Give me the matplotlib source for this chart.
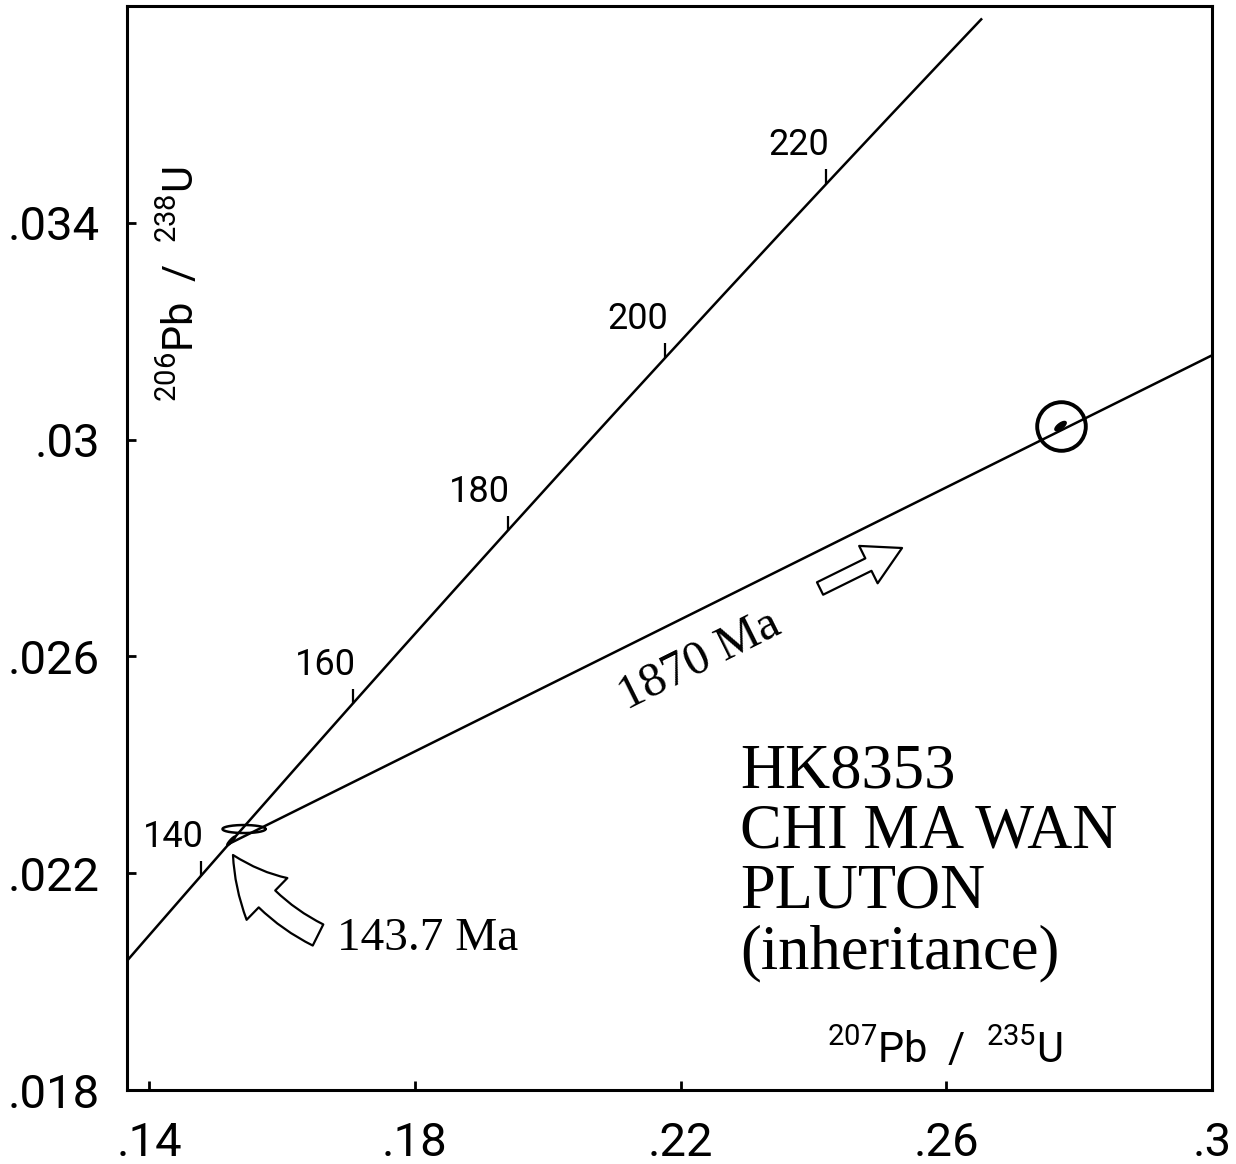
import numpy as np
import matplotlib
matplotlib.use("Agg")
import matplotlib.pyplot as plt
from matplotlib.patches import FancyArrowPatch
from matplotlib.path import Path

# Uranium decay constants (per Ma)
LAMBDA_238 = 1.55125e-4
LAMBDA_235 = 9.8485e-4

# Concordia span (Ma) and labelled age marks
concordia_span = [125.0, 239.0]
age_marks = [140, 160, 180, 200, 220]

# Discordia intercept ages (Ma)
lower_intercept = 143.7
upper_intercept = 1870.0

# Zircon analyses: 207Pb/235U, 206Pb/238U, error half-widths, correlation
grain_x = [0.15429, 0.15233, 0.2772]
grain_y = [0.022815, 0.022594, 0.03025]
grain_sx = [0.00324, 0.00056, 0.00085]
grain_sy = [0.000074, 0.000076, 0.000085]
grain_rho = [0.0, 0.93, 0.70]
grain_filled = [False, False, True]
circled_grain = 2

x_ticks = [0.14, 0.18, 0.22, 0.26, 0.30]
x_tick_labels = [".14", ".18", ".22", ".26", ".3"]
y_ticks = [0.018, 0.022, 0.026, 0.030, 0.034]
y_tick_labels = [".018", ".022", ".026", ".03", ".034"]

title_lines = ["HK8353", "CHI MA WAN", "PLUTON", "(inheritance)"]

SANS = ["Roboto", "DejaVu Sans"]
SERIF = ["Liberation Serif", "DejaVu Serif"]


def concordia(t):
    t = np.asarray(t, dtype=float)
    return np.exp(LAMBDA_235 * t) - 1.0, np.exp(LAMBDA_238 * t) - 1.0


def error_ellipse(x, y, sx, sy, rho, n=200):
    th = np.linspace(0, 2 * np.pi, n)
    ex = x + sx * np.cos(th)
    ey = y + sy * (rho * np.cos(th) + np.sqrt(1 - rho ** 2) * np.sin(th))
    return ex, ey


W, H = 1236, 1164
fig = plt.figure(figsize=(W / 100, H / 100), dpi=100)
ax = fig.add_axes([126.5 / W, 1 - 1090 / H, (1212 - 126.5) / W, (1090 - 6) / H])
ax.set_xlim(0.1366, 0.300)
ax.set_ylim(0.018, 0.038)

for sp in ax.spines.values():
    sp.set_linewidth(2.2)
    sp.set_color("black")

ax.set_xticks(x_ticks)
ax.set_xticklabels(x_tick_labels)
ax.set_yticks(y_ticks)
ax.set_yticklabels(y_tick_labels)
ax.tick_params(direction="in", length=6.5, width=2.0, labelsize=34,
               top=False, right=False)
ax.tick_params(axis="x", pad=22)
ax.tick_params(axis="y", pad=19)
for lab in ax.get_xticklabels() + ax.get_yticklabels():
    lab.set_family(SANS)

# Concordia curve
ages = np.linspace(concordia_span[0], concordia_span[1], 300)
cx, cy = concordia(ages)
ax.plot(cx, cy, color="black", lw=1.8, solid_capstyle="butt")

# Age marks on concordia: short upward ticks with labels
tick_marker = Path([[0, 0], [0, 1]], [Path.MOVETO, Path.LINETO])
mx, my = concordia(age_marks)
ax.plot(mx, my, linestyle="none", marker=tick_marker, markersize=21,
        markeredgewidth=1.6, color="black")
for a, x0, y0 in zip(age_marks, mx, my):
    ax.annotate(str(a), (x0, y0), xytext=(-20, 28), textcoords="offset points",
                ha="center", va="center", fontsize=26, family=SANS)

# Discordia through the two intercepts
dx, dy = concordia([lower_intercept, upper_intercept])
ax.plot(dx, dy, color="black", lw=1.8)

# Error ellipses
for x0, y0, sx, sy, r, filled in zip(grain_x, grain_y, grain_sx, grain_sy,
                                     grain_rho, grain_filled):
    ex, ey = error_ellipse(x0, y0, sx, sy, r)
    if filled:
        ax.fill(ex, ey, color="black", lw=1.0)
    else:
        ax.plot(ex, ey, color="black", lw=1.8)

# Circle around the inherited grain
ax.plot(grain_x[circled_grain], grain_y[circled_grain], marker="o",
        markersize=35, markerfacecolor="none", markeredgecolor="black",
        markeredgewidth=2.8, linestyle="none")

# Curved hollow arrow pointing at the lower intercept
arrow1 = FancyArrowPatch(posA=(0.16543, 0.02086), posB=(0.15263, 0.022336),
                         arrowstyle="simple,head_length=40,head_width=42,tail_width=17",
                         connectionstyle="arc3,rad=-0.15", mutation_scale=1,
                         shrinkA=0, shrinkB=0, facecolor="white",
                         edgecolor="black", lw=1.6, zorder=5)
ax.add_patch(arrow1)

# Straight hollow arrow along the discordia
arrow2 = FancyArrowPatch(posA=(0.24100, 0.027253), posB=(0.25334, 0.028000),
                         arrowstyle="simple,head_length=27,head_width=30,tail_width=10",
                         mutation_scale=1, shrinkA=0, shrinkB=0,
                         facecolor="white", edgecolor="black", lw=1.6, zorder=5)
ax.add_patch(arrow2)

# Intercept age labels
fig.text(337 / W, 1 - 950 / H, "143.7 Ma", ha="left", va="baseline",
         fontsize=34, family=SERIF)
fig.text(700 / W, 1 - 660 / H, "1870 Ma", rotation=26.4, rotation_mode="anchor",
         ha="center", va="center", fontsize=35, family=SERIF)

# Sample caption
for i, line in enumerate(title_lines):
    fig.text(740 / W, 1 - (787 + 60.5 * i) / H, line, ha="left", va="baseline",
             fontsize=45, family=SERIF)

# Axis titles
fig.text(181 / W, 1 - 284 / H, r"$^{\mathregular{206}}$Pb  /  $^{\mathregular{238}}$U",
         rotation=90, ha="center", va="center", fontsize=30, family=SANS)
fig.text(945 / W, 1 - 1050 / H, r"$^{\mathregular{207}}$Pb  /  $^{\mathregular{235}}$U",
         ha="center", va="center", fontsize=30, family=SANS)

fig.savefig("out.png", dpi=100)
